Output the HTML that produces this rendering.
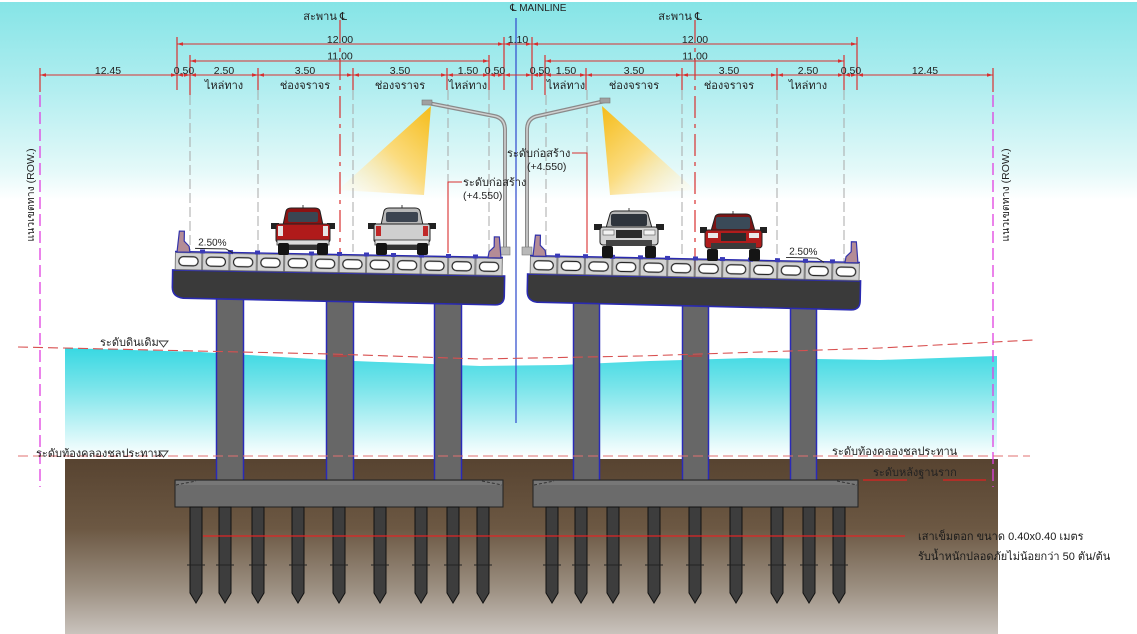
<!DOCTYPE html>
<html>
<head>
<meta charset="utf-8">
<style>
html,body{margin:0;padding:0;background:#fff;}
svg{display:block;}
text{font-family:"Liberation Sans","DejaVu Sans",sans-serif;fill:#222;}
.sm{font-size:10.5px;}
.th{font-size:11px;}
</style>
</head>
<body>
<svg width="1137" height="634" viewBox="0 0 1137 634" xmlns="http://www.w3.org/2000/svg">
<defs>
  <linearGradient id="sky" x1="0" y1="0" x2="0" y2="200" gradientUnits="userSpaceOnUse">
    <stop offset="0" stop-color="#84e4e6"/>
    <stop offset="0.45" stop-color="#b2eef0"/>
    <stop offset="0.85" stop-color="#e4f9f9"/>
    <stop offset="1" stop-color="#ffffff"/>
  </linearGradient>
  <linearGradient id="water" x1="0" y1="348" x2="0" y2="458" gradientUnits="userSpaceOnUse">
    <stop offset="0" stop-color="#38d8e2"/>
    <stop offset="0.35" stop-color="#78e4ea"/>
    <stop offset="1" stop-color="#ffffff"/>
  </linearGradient>
  <linearGradient id="soil" x1="0" y1="458" x2="0" y2="634" gradientUnits="userSpaceOnUse">
    <stop offset="0" stop-color="#574330"/>
    <stop offset="0.4" stop-color="#6c5843"/>
    <stop offset="0.75" stop-color="#9d9183"/>
    <stop offset="1" stop-color="#c9c3bd"/>
  </linearGradient>
  <linearGradient id="coneL" x1="430" y1="108" x2="350" y2="195" gradientUnits="userSpaceOnUse">
    <stop offset="0" stop-color="#f5bd1c"/>
    <stop offset="0.5" stop-color="#fbdc80"/>
    <stop offset="1" stop-color="#fff6e0" stop-opacity="0.3"/>
  </linearGradient>
  <linearGradient id="coneR" x1="603" y1="108" x2="683" y2="195" gradientUnits="userSpaceOnUse">
    <stop offset="0" stop-color="#f5bd1c"/>
    <stop offset="0.5" stop-color="#fbdc80"/>
    <stop offset="1" stop-color="#fff6e0" stop-opacity="0.3"/>
  </linearGradient>
  <pattern id="blkL" patternUnits="userSpaceOnUse" x="175" y="252" width="27.33" height="18">
    <rect x="0.5" y="0.5" width="26.3" height="17" fill="#d2d2d2" stroke="#666" stroke-width="0.8"/>
    <rect x="4" y="4.5" width="19.3" height="9" rx="4.5" fill="#fff" stroke="#222" stroke-width="1.2"/>
  </pattern>
  <pattern id="blkR" patternUnits="userSpaceOnUse" x="530" y="256" width="27.5" height="18">
    <rect x="0.5" y="0.5" width="26.5" height="17" fill="#d2d2d2" stroke="#666" stroke-width="0.8"/>
    <rect x="4" y="4.5" width="19.5" height="9" rx="4.5" fill="#fff" stroke="#222" stroke-width="1.2"/>
  </pattern>
  <marker id="ar" viewBox="0 0 10 10" refX="10" refY="5" markerWidth="6" markerHeight="6" orient="auto-start-reverse" markerUnits="userSpaceOnUse">
    <path d="M0,2 L10,5 L0,8 Z" fill="#d83030"/>
  </marker>
</defs>

<!-- backgrounds -->
<rect x="0" y="0" width="1137" height="634" fill="#fff"/>
<rect x="0" y="2" width="1137" height="200" fill="url(#sky)"/>
<path d="M65,348 L200,352 L330,360 L480,366 L560,365 L650,361 L750,358 L880,360 L997,356 L997,460 L65,460 Z" fill="url(#water)"/>
<rect x="65" y="459" width="933" height="175" fill="url(#soil)"/>

<!-- magenta ROW lines -->
<line x1="40" y1="95" x2="40" y2="487" stroke="#e040e0" stroke-width="1.3" stroke-dasharray="12 5"/>
<line x1="993" y1="95" x2="993" y2="487" stroke="#e040e0" stroke-width="1.3" stroke-dasharray="12 5"/>
<text class="sm" transform="translate(34,195) rotate(-90)" text-anchor="middle">แนวเขตทาง (ROW.)</text>
<text class="sm" transform="translate(1009,195) rotate(-90)" text-anchor="middle">แนวเขตทาง (ROW.)</text>

<!-- light cones -->
<polygon points="431,106 424,195 338,190" fill="url(#coneL)"/>
<polygon points="602,106 610,195 695,190" fill="url(#coneR)"/>

<!-- vertical extension lines -->
<g stroke="#a8a8a8" stroke-width="1" stroke-dasharray="10 4" fill="none">
  <line x1="190" y1="95" x2="190" y2="250"/>
  <line x1="258" y1="90" x2="258" y2="250"/>
  <line x1="353" y1="90" x2="353" y2="252"/>
  <line x1="448" y1="90" x2="448" y2="182"/>
  <line x1="489" y1="90" x2="489" y2="255"/>
  <line x1="546" y1="95" x2="546" y2="256"/>
  <line x1="587" y1="90" x2="587" y2="153"/>
  <line x1="682" y1="90" x2="682" y2="258"/>
  <line x1="777" y1="90" x2="777" y2="260"/>
  <line x1="844" y1="90" x2="844" y2="262"/>
</g>
<!-- center lines -->
<line x1="340" y1="20" x2="340" y2="400" stroke="#d83030" stroke-width="1.2" stroke-dasharray="22 6 4 6"/>
<line x1="695" y1="20" x2="695" y2="395" stroke="#d83030" stroke-width="1.2" stroke-dasharray="22 6 4 6"/>
<line x1="516" y1="18" x2="516" y2="423" stroke="#3a55d0" stroke-width="1.3"/>

<!-- top labels -->
<text x="510" y="11" style="font-size:10px">℄ MAINLINE</text>
<text x="347" y="20" class="th" text-anchor="end">สะพาน ℄</text>
<text x="702" y="20" class="th" text-anchor="end">สะพาน ℄</text>

<!-- dimension ticks -->
<g stroke="#d83030" stroke-width="1.2">
  <line x1="177" y1="37" x2="177" y2="90"/>
  <line x1="504" y1="37" x2="504" y2="90"/>
  <line x1="532" y1="37" x2="532" y2="90"/>
  <line x1="857" y1="37" x2="857" y2="90"/>
  <line x1="190" y1="55" x2="190" y2="95"/>
  <line x1="489" y1="55" x2="489" y2="90"/>
  <line x1="545" y1="55" x2="545" y2="95"/>
  <line x1="844" y1="55" x2="844" y2="90"/>
  <line x1="40" y1="68" x2="40" y2="92"/>
  <line x1="258" y1="68" x2="258" y2="90"/>
  <line x1="353" y1="68" x2="353" y2="90"/>
  <line x1="447" y1="68" x2="447" y2="90"/>
  <line x1="586" y1="68" x2="586" y2="90"/>
  <line x1="682" y1="68" x2="682" y2="90"/>
  <line x1="777" y1="68" x2="777" y2="90"/>
  <line x1="993" y1="68" x2="993" y2="92"/>
</g>
<!-- dimension lines -->
<g stroke="#d83030" stroke-width="1" marker-start="url(#ar)" marker-end="url(#ar)">
  <line x1="177" y1="44" x2="504" y2="44"/>
  <line x1="504" y1="44" x2="532" y2="44"/>
  <line x1="532" y1="44" x2="857" y2="44"/>
  <line x1="190" y1="61" x2="489" y2="61"/>
  <line x1="545" y1="61" x2="844" y2="61"/>
  <line x1="40" y1="75" x2="177" y2="75"/>
  <line x1="177" y1="75" x2="190" y2="75"/>
  <line x1="190" y1="75" x2="258" y2="75"/>
  <line x1="258" y1="75" x2="353" y2="75"/>
  <line x1="353" y1="75" x2="447" y2="75"/>
  <line x1="447" y1="75" x2="489" y2="75"/>
  <line x1="489" y1="75" x2="504" y2="75"/>
  <line x1="504" y1="75" x2="532" y2="75"/>
  <line x1="532" y1="75" x2="545" y2="75"/>
  <line x1="545" y1="75" x2="586" y2="75"/>
  <line x1="586" y1="75" x2="682" y2="75"/>
  <line x1="682" y1="75" x2="777" y2="75"/>
  <line x1="777" y1="75" x2="844" y2="75"/>
  <line x1="844" y1="75" x2="857" y2="75"/>
  <line x1="857" y1="75" x2="993" y2="75"/>
</g>
<g class="sm" text-anchor="middle">
  <text x="340" y="43">12.00</text>
  <text x="518" y="43">1.10</text>
  <text x="695" y="43">12.00</text>
  <text x="340" y="59.5">11.00</text>
  <text x="695" y="59.5">11.00</text>
  <text x="108" y="74">12.45</text>
  <text x="184" y="74">0.50</text>
  <text x="224" y="74">2.50</text>
  <text x="305" y="74">3.50</text>
  <text x="400" y="74">3.50</text>
  <text x="468" y="74">1.50</text>
  <text x="495" y="74">0.50</text>
  <text x="540" y="74">0.50</text>
  <text x="566" y="74">1.50</text>
  <text x="634" y="74">3.50</text>
  <text x="729" y="74">3.50</text>
  <text x="808" y="74">2.50</text>
  <text x="851" y="74">0.50</text>
  <text x="925" y="74">12.45</text>
</g>
<g class="th" text-anchor="middle">
  <text x="224" y="89">ไหล่ทาง</text>
  <text x="305" y="89">ช่องจราจร</text>
  <text x="400" y="89">ช่องจราจร</text>
  <text x="468" y="89">ไหล่ทาง</text>
  <text x="566" y="89">ไหล่ทาง</text>
  <text x="634" y="89">ช่องจราจร</text>
  <text x="729" y="89">ช่องจราจร</text>
  <text x="808" y="89">ไหล่ทาง</text>
</g>

<!-- lamp posts -->
<g fill="none" stroke-linecap="round">
  <path d="M428,103 L494,116 Q505,118 505,130 L505,252" stroke="#8a8a8a" stroke-width="4"/>
  <path d="M428,103 L494,116 Q505,118 505,130 L505,252" stroke="#d0d0d0" stroke-width="1.6"/>
  <path d="M605,101 L538,116 Q527,118 527,130 L527,252" stroke="#8a8a8a" stroke-width="4"/>
  <path d="M605,101 L538,116 Q527,118 527,130 L527,252" stroke="#d0d0d0" stroke-width="1.6"/>
</g>
<rect x="422" y="100" width="10" height="5" fill="#a0a0a0" stroke="#777" stroke-width="0.6"/>
<rect x="600" y="98" width="10" height="5" fill="#a0a0a0" stroke="#777" stroke-width="0.6"/>
<rect x="500" y="247" width="10" height="8" fill="#b8b8b8" stroke="#777" stroke-width="0.6"/>
<rect x="522" y="247" width="10" height="8" fill="#b8b8b8" stroke="#777" stroke-width="0.6"/>

<!-- construction level annotations -->
<polyline points="462,182 448,182 448,253" fill="none" stroke="#d83030" stroke-width="1.1"/>
<polyline points="572,153 587,153 587,253" fill="none" stroke="#d83030" stroke-width="1.1"/>
<text x="463" y="186" class="th">ระดับก่อสร้าง</text>
<text x="463" y="199" class="sm">(+4.550)</text>
<text x="507" y="157" class="th">ระดับก่อสร้าง</text>
<text x="527" y="170" class="sm">(+4.550)</text>

<!-- piers -->
<g fill="#676767">
  <rect x="216" y="292" width="28" height="190"/>
  <rect x="326" y="292" width="28" height="190"/>
  <rect x="434" y="292" width="28" height="190"/>
  <rect x="573" y="295" width="27" height="187"/>
  <rect x="682" y="295" width="27" height="187"/>
  <rect x="790" y="295" width="27" height="187"/>
</g>
<g stroke="#2a2ab8" stroke-width="1.5">
  <line x1="216.5" y1="292" x2="216.5" y2="481"/><line x1="243.5" y1="292" x2="243.5" y2="481"/>
  <line x1="326.5" y1="292" x2="326.5" y2="481"/><line x1="353.5" y1="292" x2="353.5" y2="481"/>
  <line x1="434.5" y1="292" x2="434.5" y2="481"/><line x1="461.5" y1="292" x2="461.5" y2="481"/>
  <line x1="573.5" y1="295" x2="573.5" y2="481"/><line x1="599.5" y1="295" x2="599.5" y2="481"/>
  <line x1="682.5" y1="295" x2="682.5" y2="481"/><line x1="708.5" y1="295" x2="708.5" y2="481"/>
  <line x1="790.5" y1="295" x2="790.5" y2="481"/><line x1="816.5" y1="295" x2="816.5" y2="481"/>
</g>
<line x1="333" y1="356" x2="347" y2="356" stroke="#d83030" stroke-width="1"/>
<line x1="688" y1="356" x2="702" y2="356" stroke="#d83030" stroke-width="1"/>

<!-- level dashed lines -->
<polyline points="18,347 330,354 480,359 640,356 880,348 1033,340" fill="none" stroke="#d85050" stroke-width="1.1" stroke-dasharray="10 5"/>
<line x1="18" y1="456" x2="1030" y2="456" stroke="#e07070" stroke-width="1" stroke-dasharray="10 5"/>

<!-- level labels -->
<text x="100" y="346" class="th">ระดับดินเดิม</text>
<path d="M159,341 L168,341 L163.5,347 Z" fill="none" stroke="#333" stroke-width="0.9"/>
<text x="36" y="457" class="th">ระดับท้องคลองชลประทาน</text>
<path d="M159,451 L168,451 L163.5,457 Z" fill="none" stroke="#333" stroke-width="0.9"/>
<text x="832" y="455" class="th">ระดับท้องคลองชลประทาน</text>
<text x="873" y="476" class="th">ระดับหลังฐานราก</text>
<line x1="863" y1="480" x2="907" y2="480" stroke="#e02020" stroke-width="1.2"/>
<line x1="943" y1="480" x2="986" y2="480" stroke="#e02020" stroke-width="1.2"/>

<!-- pile caps -->
<rect x="175" y="480" width="328" height="27" fill="#6b6b6b" stroke="#222" stroke-width="1"/>
<rect x="176" y="481" width="326" height="4" fill="#777"/>
<line x1="176" y1="485" x2="196" y2="481" stroke="#333" stroke-dasharray="3 2"/>
<line x1="482" y1="481" x2="502" y2="485" stroke="#333" stroke-dasharray="3 2"/>
<rect x="533" y="480" width="325" height="27" fill="#6b6b6b" stroke="#222" stroke-width="1"/>
<rect x="534" y="481" width="323" height="4" fill="#777"/>
<line x1="534" y1="485" x2="554" y2="481" stroke="#333" stroke-dasharray="3 2"/>
<line x1="837" y1="481" x2="857" y2="485" stroke="#333" stroke-dasharray="3 2"/>

<!-- piles -->
<g fill="#3d3d3d" stroke="#111" stroke-width="1">
  <path d="M190,507 h12 v86 l-6,10 l-6,-10 Z"/>
  <path d="M219,507 h12 v86 l-6,10 l-6,-10 Z"/>
  <path d="M252,507 h12 v86 l-6,10 l-6,-10 Z"/>
  <path d="M292,507 h12 v86 l-6,10 l-6,-10 Z"/>
  <path d="M333,507 h12 v86 l-6,10 l-6,-10 Z"/>
  <path d="M374,507 h12 v86 l-6,10 l-6,-10 Z"/>
  <path d="M415,507 h12 v86 l-6,10 l-6,-10 Z"/>
  <path d="M447,507 h12 v86 l-6,10 l-6,-10 Z"/>
  <path d="M477,507 h12 v86 l-6,10 l-6,-10 Z"/>
  <path d="M546,507 h12 v86 l-6,10 l-6,-10 Z"/>
  <path d="M575,507 h12 v86 l-6,10 l-6,-10 Z"/>
  <path d="M607,507 h12 v86 l-6,10 l-6,-10 Z"/>
  <path d="M648,507 h12 v86 l-6,10 l-6,-10 Z"/>
  <path d="M689,507 h12 v86 l-6,10 l-6,-10 Z"/>
  <path d="M730,507 h12 v86 l-6,10 l-6,-10 Z"/>
  <path d="M771,507 h12 v86 l-6,10 l-6,-10 Z"/>
  <path d="M803,507 h12 v86 l-6,10 l-6,-10 Z"/>
  <path d="M833,507 h12 v86 l-6,10 l-6,-10 Z"/>
</g>
<g stroke="#222" stroke-width="1">
  <line x1="187" y1="565" x2="205" y2="565"/><line x1="216" y1="565" x2="234" y2="565"/>
  <line x1="249" y1="565" x2="267" y2="565"/><line x1="289" y1="565" x2="307" y2="565"/>
  <line x1="330" y1="565" x2="348" y2="565"/><line x1="371" y1="565" x2="389" y2="565"/>
  <line x1="412" y1="565" x2="430" y2="565"/><line x1="444" y1="565" x2="462" y2="565"/>
  <line x1="474" y1="565" x2="492" y2="565"/><line x1="543" y1="565" x2="561" y2="565"/>
  <line x1="572" y1="565" x2="590" y2="565"/><line x1="604" y1="565" x2="622" y2="565"/>
  <line x1="645" y1="565" x2="663" y2="565"/><line x1="686" y1="565" x2="704" y2="565"/>
  <line x1="727" y1="565" x2="745" y2="565"/><line x1="768" y1="565" x2="786" y2="565"/>
  <line x1="800" y1="565" x2="818" y2="565"/><line x1="830" y1="565" x2="848" y2="565"/>
</g>
<line x1="203" y1="536" x2="905" y2="536" stroke="#e02525" stroke-width="1.3"/>
<text x="918" y="540" class="th" style="fill:#1a1a1a">เสาเข็มตอก ขนาด 0.40x0.40 เมตร</text>
<text x="918" y="560" class="th" style="fill:#1a1a1a">รับน้ำหนักปลอดภัยไม่น้อยกว่า 50 ตัน/ต้น</text>

<!-- LEFT DECK -->
<g transform="rotate(1.05 175 252)">
  <path d="M173,270 L505,270 L505,290 Q505,299 496,299 L184,298 Q173,297 173,287 Z" fill="#3a3a3a" stroke="#2a2ab0" stroke-width="1.6"/>
  <rect x="175" y="252" width="328" height="18" fill="url(#blkL)"/>
  <line x1="175" y1="251.5" x2="503" y2="251.5" stroke="#2a2ab0" stroke-width="1.4"/>
  <g fill="#3a3ab8">
    <rect x="200" y="249" width="5" height="4"/><rect x="228" y="249" width="5" height="4"/>
    <rect x="255" y="249" width="5" height="4"/><rect x="282" y="249" width="5" height="4"/>
    <rect x="309" y="249" width="5" height="4"/><rect x="337" y="249" width="5" height="4"/>
    <rect x="364" y="249" width="5" height="4"/><rect x="391" y="249" width="5" height="4"/>
    <rect x="419" y="249" width="5" height="4"/><rect x="446" y="249" width="5" height="4"/>
    <rect x="473" y="249" width="5" height="4"/>
  </g>
  <path d="M179,231 L184,231 L184,241 L189,246 L190,252 L177,252 Z" fill="#b48c96" stroke="#3333aa" stroke-width="1.2"/>
  <path d="M499,231 L494,231 L494,241 L489,246 L488,252 L501,252 Z" fill="#b48c96" stroke="#3333aa" stroke-width="1.2"/>
  <!-- slope label -->
  <text x="198" y="245" style="font-size:10px">2.50%</text>
  <polyline points="195,248 226,248 233,252" fill="none" stroke="#222" stroke-width="0.9"/>
</g>

<!-- RIGHT DECK -->
<g transform="rotate(1.2 528 256)">
  <path d="M528,274 L861,274 L861,294 Q861,303 852,303 L538,302 Q528,301 528,291 Z" fill="#3a3a3a" stroke="#2a2ab0" stroke-width="1.6"/>
  <rect x="530" y="256" width="330" height="18" fill="url(#blkR)"/>
  <line x1="530" y1="255.5" x2="860" y2="255.5" stroke="#2a2ab0" stroke-width="1.4"/>
  <g fill="#3a3ab8">
    <rect x="555" y="253" width="5" height="4"/><rect x="583" y="253" width="5" height="4"/>
    <rect x="610" y="253" width="5" height="4"/><rect x="638" y="253" width="5" height="4"/>
    <rect x="665" y="253" width="5" height="4"/><rect x="693" y="253" width="5" height="4"/>
    <rect x="720" y="253" width="5" height="4"/><rect x="748" y="253" width="5" height="4"/>
    <rect x="775" y="253" width="5" height="4"/><rect x="803" y="253" width="5" height="4"/>
    <rect x="830" y="253" width="5" height="4"/>
  </g>
  <path d="M535,235 L540,235 L540,245 L545,250 L546,256 L533,256 Z" fill="#b48c96" stroke="#3333aa" stroke-width="1.2"/>
  <path d="M856,235 L851,235 L851,245 L846,250 L845,256 L858,256 Z" fill="#b48c96" stroke="#3333aa" stroke-width="1.2"/>
  <text x="789" y="249" style="font-size:10px">2.50%</text>
  <polyline points="786,252 817,252 824,256" fill="none" stroke="#222" stroke-width="0.9"/>
</g>

<!-- CARS -->
<!-- red truck rear -->
<g transform="translate(270,205)">
  <line x1="33" y1="0" x2="33" y2="6" stroke="#444"/>
  <path d="M13,20 L16,6 Q17,3 21,3 L45,3 Q49,3 50,6 L53,20 Z" fill="#8c1212" stroke="#222"/>
  <rect x="18" y="7" width="30" height="10" rx="2" fill="#3a4652"/>
  <rect x="1" y="18" width="8" height="6" fill="#222"/>
  <rect x="57" y="18" width="8" height="6" fill="#222"/>
  <rect x="6" y="19" width="54" height="18" rx="2" fill="#b01a1a" stroke="#222"/>
  <rect x="8" y="21" width="5" height="10" fill="#e6e6e6"/>
  <rect x="53" y="21" width="5" height="10" fill="#e6e6e6"/>
  <rect x="7" y="35" width="52" height="5" fill="#dcdcdc" stroke="#333" stroke-width="0.8"/>
  <rect x="14" y="40" width="38" height="5" fill="#333"/>
  <rect x="8" y="38" width="11" height="12" rx="2" fill="#151515"/>
  <rect x="47" y="38" width="11" height="12" rx="2" fill="#151515"/>
</g>
<!-- silver truck rear -->
<g transform="translate(368,205)">
  <line x1="34" y1="0" x2="34" y2="6" stroke="#444"/>
  <path d="M13,20 L16,6 Q17,3 21,3 L47,3 Q51,3 52,6 L55,20 Z" fill="#b8b8b8" stroke="#222"/>
  <rect x="18" y="7" width="32" height="10" rx="2" fill="#3c4450"/>
  <rect x="0" y="18" width="8" height="6" fill="#222"/>
  <rect x="60" y="18" width="8" height="6" fill="#222"/>
  <rect x="6" y="19" width="56" height="18" rx="2" fill="#cfcfcf" stroke="#222"/>
  <rect x="8" y="21" width="5" height="10" fill="#c02828"/>
  <rect x="55" y="21" width="5" height="10" fill="#c02828"/>
  <rect x="7" y="35" width="54" height="5" fill="#e8e8e8" stroke="#333" stroke-width="0.8"/>
  <rect x="14" y="40" width="40" height="5" fill="#333"/>
  <rect x="8" y="38" width="11" height="12" rx="2" fill="#151515"/>
  <rect x="49" y="38" width="11" height="12" rx="2" fill="#151515"/>
</g>
<!-- silver truck front -->
<g transform="translate(594,208)">
  <line x1="35" y1="0" x2="35" y2="5" stroke="#444"/>
  <path d="M12,20 L16,6 Q17,3 21,3 L49,3 Q53,3 54,6 L58,20 Z" fill="#b5b5b5" stroke="#222"/>
  <rect x="17" y="6" width="36" height="12" rx="2" fill="#2e343c"/>
  <rect x="0" y="16" width="8" height="6" fill="#222"/>
  <rect x="62" y="16" width="8" height="6" fill="#222"/>
  <rect x="6" y="19" width="58" height="18" rx="3" fill="#d4d4d4" stroke="#222"/>
  <rect x="9" y="22" width="11" height="5" fill="#f2f2f2" stroke="#555" stroke-width="0.6"/>
  <rect x="50" y="22" width="11" height="5" fill="#f2f2f2" stroke="#555" stroke-width="0.6"/>
  <rect x="22" y="22" width="26" height="8" fill="#2a2a2a"/>
  <rect x="12" y="32" width="46" height="6" fill="#444"/>
  <rect x="8" y="38" width="11" height="12" rx="2" fill="#151515"/>
  <rect x="51" y="38" width="11" height="12" rx="2" fill="#151515"/>
</g>
<!-- red truck front -->
<g transform="translate(700,211)">
  <line x1="33" y1="0" x2="33" y2="5" stroke="#444"/>
  <path d="M11,20 L15,6 Q16,3 20,3 L46,3 Q50,3 51,6 L55,20 Z" fill="#7c1414" stroke="#222"/>
  <rect x="16" y="6" width="34" height="12" rx="2" fill="#3a4a58"/>
  <rect x="0" y="16" width="7" height="6" fill="#222"/>
  <rect x="60" y="16" width="7" height="6" fill="#222"/>
  <rect x="5" y="19" width="57" height="18" rx="3" fill="#b01c1c" stroke="#222"/>
  <rect x="8" y="22" width="10" height="5" fill="#e8e8e8"/>
  <rect x="49" y="22" width="10" height="5" fill="#e8e8e8"/>
  <rect x="21" y="22" width="25" height="8" fill="#2a2a2a"/>
  <rect x="11" y="32" width="45" height="6" fill="#3a3a3a"/>
  <rect x="7" y="38" width="11" height="12" rx="2" fill="#151515"/>
  <rect x="49" y="38" width="11" height="12" rx="2" fill="#151515"/>
</g>
</svg>
</body>
</html>
